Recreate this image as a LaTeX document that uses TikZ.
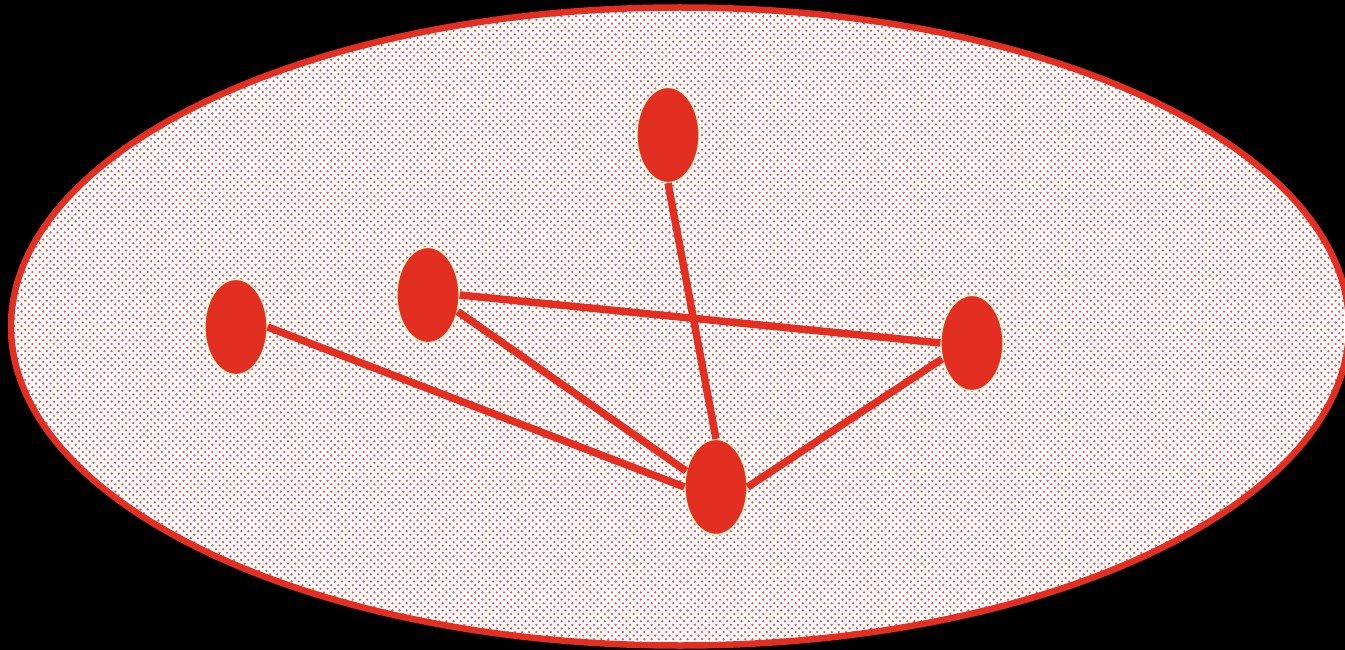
\documentclass[tikz,border=0pt]{standalone}
\usetikzlibrary{shapes.geometric,patterns.meta}
\definecolor{vred}{HTML}{E32F22}
\definecolor{dotred}{HTML}{E8514C}
\definecolor{rimyel}{HTML}{FFF3C4}
\tikzdeclarepattern{name=stagdots, type=uncolored,
  bottom left={(-1.5pt,-1.5pt)}, top right={(6.5pt,6.5pt)}, tile size={(7.2pt,7.2pt)},
  code={\fill (0pt,0pt) circle (1.25pt); \fill (3.6pt,3.6pt) circle (1.25pt);}}
\tikzset{
  vert/.style={ellipse, fill=vred, draw=rimyel, line width=1.2pt,
    minimum width=62pt, minimum height=95pt, inner sep=0pt},
  link/.style={draw=vred, line width=7.5pt}
}
\begin{document}
\begin{tikzpicture}[x=1pt,y=-1pt]
\fill[black] (0,0) rectangle (1345,650);
\useasboundingbox (0,0) rectangle (1345,650);
\fill[white] (680,326.5) ellipse [x radius=669, y radius=319];
\fill[pattern={stagdots}, pattern color=dotred] (680,326.5) ellipse [x radius=669, y radius=319];
\draw[vred, line width=6.5pt] (680,326.5) ellipse [x radius=669, y radius=319];
\node[vert] (top) at (668,135) {};
\node[vert] (left) at (236,327) {};
\node[vert] (mid) at (428,295) {};
\node[vert] (right) at (972,343) {};
\node[vert] (bot) at (716,487) {};
\path[link] (left.east) -- (bot.west);
\path[link] (mid.-29) -- (bot.152);
\path[link] (mid.east) -- (right.west);
\path[link] (top.south) -- (bot.north);
\path[link] (right.208) -- (bot.east);
\end{tikzpicture}
\end{document}
